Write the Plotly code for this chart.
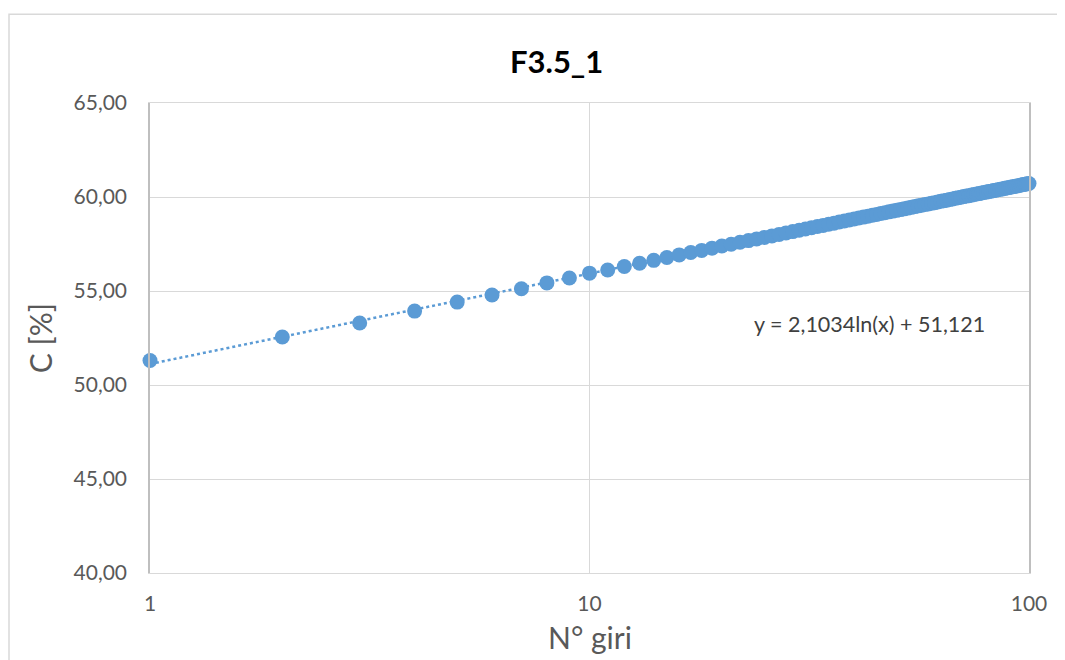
import numpy as np
import plotly.graph_objects as go

# ---- data ----
n_giri = list(range(1, 101))
c_perc = [
    51.30, 52.55, 53.30, 53.93, 54.41, 54.79, 55.12, 55.43, 55.69, 55.95,
    56.12, 56.30, 56.48, 56.63, 56.78, 56.92, 57.05, 57.16, 57.28, 57.39,
    57.49, 57.59, 57.68, 57.77, 57.85, 57.93, 58.01, 58.09, 58.16, 58.23,
    58.30, 58.37, 58.43, 58.49, 58.55, 58.61, 58.67, 58.72, 58.78, 58.83,
    58.88, 58.93, 58.98, 59.03, 59.07, 59.12, 59.16, 59.21, 59.25, 59.29,
    59.33, 59.37, 59.41, 59.45, 59.49, 59.53, 59.56, 59.60, 59.63, 59.67,
    59.70, 59.74, 59.77, 59.80, 59.83, 59.87, 59.90, 59.93, 59.96, 59.99,
    60.02, 60.05, 60.07, 60.10, 60.13, 60.16, 60.18, 60.21, 60.24, 60.26,
    60.29, 60.31, 60.34, 60.36, 60.39, 60.41, 60.43, 60.46, 60.48, 60.50,
    60.53, 60.55, 60.57, 60.59, 60.61, 60.64, 60.66, 60.68, 60.70, 60.72,
]
title_text = "F3.5_1"
x_title = "N° giri"
y_title = "C [%]"
x_tickvals = [1, 10, 100]
x_ticktext = ["1", "10", "100"]
y_tickvals = [40, 45, 50, 55, 60, 65]
equation_text = "y = 2,1034ln(x) + 51,121"

# logarithmic trendline fitted to the data (as the spreadsheet does)
xa = np.array(n_giri, dtype=float)
slope, intercept = np.polyfit(np.log(xa), np.array(c_perc), 1)
trend_y = slope * np.log(xa) + intercept

blue = "#5B9BD5"
grid = "#D9D9D9"
txt = "#595959"
font_family = "Lato, 'Open Sans', 'Noto Sans', sans-serif"

fig = go.Figure()
fig.add_trace(go.Scatter(
    x=n_giri, y=trend_y, mode="lines",
    line=dict(color=blue, width=2.5, dash="dot"),
    hoverinfo="skip", showlegend=False,
))
fig.add_trace(go.Scatter(
    x=n_giri, y=c_perc, mode="markers",
    marker=dict(color=blue, size=15, line=dict(width=0)),
    cliponaxis=False, showlegend=False,
))

fig.update_layout(
    width=1065, height=660,
    paper_bgcolor="white", plot_bgcolor="white",
    separators=",.",
    margin=dict(l=142, r=44, t=95, b=95, autoexpand=False),
    font=dict(family=font_family, color=txt),
    xaxis=dict(
        type="log", range=[0, 2],
        tickvals=x_tickvals, ticktext=x_ticktext,
        showgrid=True, gridcolor=grid, gridwidth=1.3,
        showline=True, linecolor=grid, linewidth=1.3, mirror=True,
        ticks="", zeroline=False, ticklabelstandoff=12,
        tickfont=dict(size=21, color=txt),
        automargin=False,
    ),
    yaxis=dict(
        range=[40, 65], tickvals=y_tickvals, tickformat=".2f",
        showgrid=True, gridcolor=grid, gridwidth=1.3,
        showline=True, linecolor="#BFBFBF", linewidth=1.5, mirror=True,
        ticks="", zeroline=False, ticklabelstandoff=17,
        tickfont=dict(size=21, color=txt),
        automargin=False,
    ),
    annotations=[
        dict(text="<b>" + title_text + "</b>", x=0.463, y=1.089,
             xref="paper", yref="paper", showarrow=False,
             xanchor="center", yanchor="middle",
             font=dict(size=31, color="#000000", family=font_family)),
        dict(text=x_title, x=0.5006, y=-0.136,
             xref="paper", yref="paper", showarrow=False,
             xanchor="center", yanchor="middle",
             font=dict(size=30, color=txt, family=font_family)),
        dict(text=y_title, x=-0.125, y=0.5, textangle=-90,
             xref="paper", yref="paper", showarrow=False,
             xanchor="center", yanchor="middle",
             font=dict(size=30, color=txt, family=font_family)),
        dict(text=equation_text, x=0.818, y=0.530,
             xref="paper", yref="paper", showarrow=False,
             xanchor="center", yanchor="middle",
             font=dict(size=21.5, color="#404040", family=font_family)),
    ],
    shapes=[dict(
        type="rect", xref="paper", yref="paper",
        x0=-0.1604, x1=1.2, y0=-0.3, y1=1.189,
        line=dict(color=grid, width=1.5), fillcolor="rgba(0,0,0,0)",
        layer="below",
    )],
)

fig.write_html("out.html")
